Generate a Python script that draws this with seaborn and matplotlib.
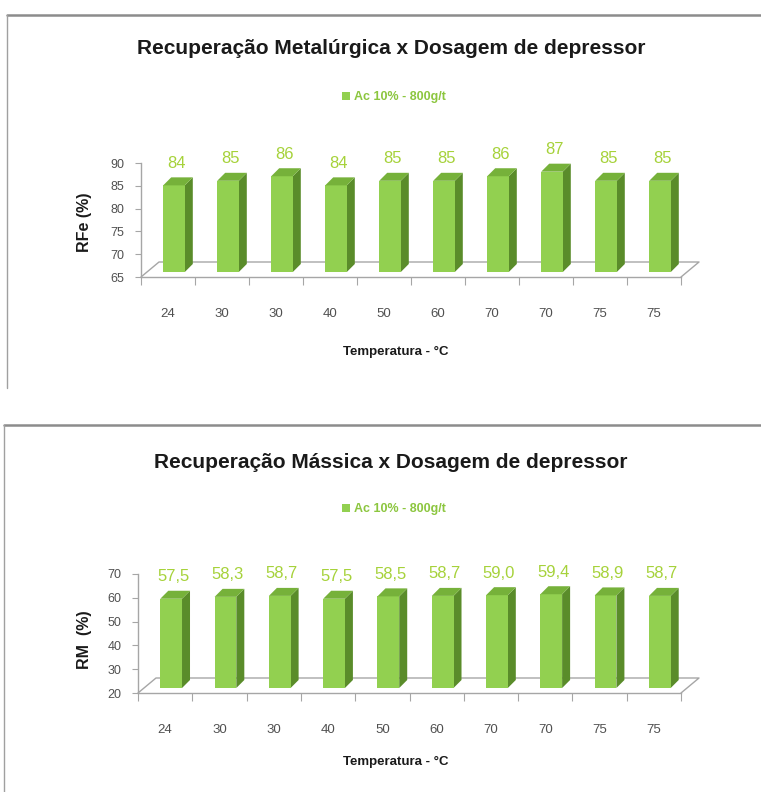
import numpy as np
import pandas as pd
import matplotlib
matplotlib.use("Agg")
import matplotlib.pyplot as plt
from matplotlib.patches import Polygon
from matplotlib.lines import Line2D
from matplotlib.transforms import Affine2D, IdentityTransform
import seaborn as sns

# ---- data -------------------------------------------------------------
temperaturas = ["24", "30", "30", "40", "50", "60", "70", "70", "75", "75"]
rfe = [84, 85, 86, 84, 85, 85, 86, 87, 85, 85]
rm = [57.5, 58.3, 58.7, 57.5, 58.5, 58.7, 59.0, 59.4, 58.9, 58.7]
serie = "Ac 10% - 800g/t"
rfe_ticks = [65, 70, 75, 80, 85, 90]
rm_ticks = [20, 30, 40, 50, 60, 70]

# ---- style ------------------------------------------------------------
sns.set_theme(style="white")
plt.rcParams["font.family"] = ["Liberation Sans", "DejaVu Sans"]

W, H, DPI = 761, 792, 100
FRONT = "#92D050"
TOP = "#76B13A"
SIDE = "#5A8C2A"
LABEL_GREEN = "#A6D23A"
GRID_GRAY = "#A6A6A6"

SHIFT_X, SHIFT_Y = 6, 5      # bar offset inside the floor (pixels)
DEPTH_X, DEPTH_Y = 8, 8      # bar depth (pixels)
FLOOR_X, FLOOR_Y = 18, 15    # floor depth (pixels)

fig = plt.figure(figsize=(W / DPI, H / DPI), dpi=DPI)
fig.patch.set_facecolor("white")


def axes_px(left, top, right, bottom):
    """Axes rectangle given in pixel coordinates measured from the top-left."""
    return fig.add_axes([left / W, 1 - bottom / H, (right - left) / W, (bottom - top) / H])


def frame(x, y_top, y_bottom):
    """Gray panel border: a top rule and a left rule."""
    fig.add_artist(Line2D([x / W, 1.0], [1 - y_top / H, 1 - y_top / H],
                          transform=fig.transFigure, color="#8C8C8C", lw=1.8))
    fig.add_artist(Line2D([x / W, x / W], [1 - y_top / H, 1 - y_bottom / H],
                          transform=fig.transFigure, color="#A0A0A0", lw=1.0))


def draw_chart(ax, values, ticks, ylabel, title, fmt, title_y, legend_y,
               xlabel_y, ylabel_coords):
    ymin, ymax = ticks[0], ticks[-1]
    df = pd.DataFrame({"pos": np.arange(len(values)), "valor": values, "serie": serie})
    sns.barplot(data=df, x="pos", y="valor", hue="serie", palette=[FRONT],
                width=0.4, dodge=False, saturation=1, edgecolor="none",
                ax=ax, legend=True)
    ax.set_ylim(ymin, ymax)
    ax.set_xlim(-0.5, len(values) - 0.5)

    # axes decoration
    for side in ["top", "right"]:
        ax.spines[side].set_visible(False)
    for side in ["left", "bottom"]:
        ax.spines[side].set_color(GRID_GRAY)
        ax.spines[side].set_linewidth(1.0)
    ax.set_yticks(ticks)
    ax.tick_params(axis="y", which="major", direction="out", length=4, width=0.8,
                   color=GRID_GRAY, labelsize=9, labelcolor="#505050", pad=8, left=True)
    ax.set_xticks(np.arange(len(values)), temperaturas)
    ax.set_xticks(np.arange(-0.5, len(values)), minor=True)
    ax.tick_params(axis="x", which="major", length=0, labelsize=9.5,
                   labelcolor="#505050", pad=22)
    ax.tick_params(axis="x", which="minor", direction="out", length=6, width=0.8,
                   color=GRID_GRAY, bottom=True)
    ax.set_ylabel(ylabel, fontsize=11.5, fontweight="bold", color="#1A1A1A")
    ax.yaxis.set_label_coords(*ylabel_coords)
    ax.set_xlabel("")

    fig.canvas.draw()
    bb = ax.bbox
    x0, x1, y0 = bb.x0, bb.x1, bb.y0

    # floor of the 3-D plot (front edge is the bottom spine)
    floor = [(x1, y0), (x1 + FLOOR_X, y0 + FLOOR_Y),
             (x0 + FLOOR_X, y0 + FLOOR_Y), (x0, y0)]
    ax.add_line(Line2D([p[0] for p in floor], [p[1] for p in floor],
                       transform=IdentityTransform(), color=GRID_GRAY, lw=1.0,
                       zorder=0.5, clip_on=False))

    # 3-D bars: front face from seaborn, shifted into the floor, plus top/side faces
    shift = Affine2D().translate(SHIFT_X, SHIFT_Y)
    for p, v in zip(ax.patches, values):
        p.set_y(ymin)
        p.set_height(v - ymin)
        p.set_transform(ax.transData + shift)
        p.set_clip_on(False)
        p.set_zorder(2)
        (xl, yb), (xr, yt) = (ax.transData + shift).transform(
            [(p.get_x(), ymin), (p.get_x() + p.get_width(), v)])
        side_face = Polygon([(xr, yb), (xr, yt), (xr + DEPTH_X, yt + DEPTH_Y),
                             (xr + DEPTH_X, yb + DEPTH_Y)], closed=True,
                            transform=IdentityTransform(), facecolor=SIDE,
                            edgecolor="none", zorder=1.9, clip_on=False)
        top_face = Polygon([(xl, yt), (xr, yt), (xr + DEPTH_X, yt + DEPTH_Y),
                            (xl + DEPTH_X, yt + DEPTH_Y)], closed=True,
                           transform=IdentityTransform(), facecolor=TOP,
                           edgecolor="none", zorder=2.1, clip_on=False)
        ax.add_patch(side_face)
        ax.add_patch(top_face)
        ax.annotate(fmt(v), xy=(p.get_x() + p.get_width() / 2, v),
                    xytext=(SHIFT_X + 2, SHIFT_Y + 22), textcoords="offset pixels",
                    ha="center", va="center", fontsize=12, color=LABEL_GREEN,
                    annotation_clip=False)

    # legend
    sns.move_legend(ax, "center", bbox_to_anchor=(394 / W, 1 - legend_y / H),
                    bbox_transform=fig.transFigure, frameon=False, title=None,
                    handlelength=0.6, handleheight=0.6, handletextpad=0.3,
                    fontsize=9)
    for t in ax.get_legend().get_texts():
        t.set_color("#8CC63F")
        t.set_fontweight("bold")

    fig.text(391 / W, 1 - title_y / H, title, ha="center", va="center",
             fontsize=15, fontweight="bold", color="#1A1A1A")
    fig.text(396 / W, 1 - xlabel_y / H, "Temperatura - °C", ha="center", va="center",
             fontsize=9.5, fontweight="bold", color="#1A1A1A")


frame(7, 15, 388)
frame(4, 425, 792)

ax_top = axes_px(141, 163, 681, 277)
draw_chart(ax_top, rfe, rfe_ticks, "RFe (%)",
           "Recuperação Metalúrgica x Dosagem de depressor",
           lambda v: f"{v:.0f}", title_y=48, legend_y=97, xlabel_y=352,
           ylabel_coords=((92 - 141) / 540, 0.48))

ax_bot = axes_px(138, 574, 681, 693)
draw_chart(ax_bot, rm, rm_ticks, "RM  (%)",
           "Recuperação Mássica x Dosagem de depressor",
           lambda v: f"{v:.1f}".replace(".", ","), title_y=462, legend_y=509,
           xlabel_y=762, ylabel_coords=((92 - 138) / 543, 0.445))

fig.savefig("out.png", dpi=DPI, facecolor="white")
